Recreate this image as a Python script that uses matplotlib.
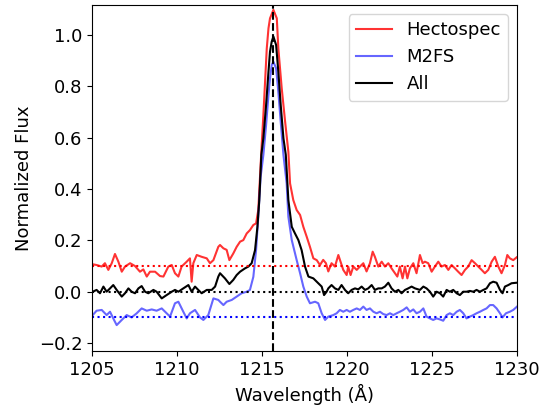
import matplotlib
matplotlib.use("Agg")
import matplotlib.pyplot as plt

# Hectospec spectrum (offset +0.1)
wave_hecto = [1205.04, 1205.27, 1205.57, 1205.76, 1205.96, 1206.16, 1206.35, 1206.55, 1206.75, 1206.94,
              1207.24, 1207.53, 1207.82, 1208.02, 1208.22, 1208.41, 1208.71, 1209.00, 1209.20, 1209.49,
              1209.69, 1209.88, 1210.08, 1210.27, 1210.57, 1210.76, 1210.86, 1210.96, 1211.16, 1211.45,
              1211.75, 1211.94, 1212.14, 1212.43, 1212.53, 1212.73, 1212.92, 1213.08, 1213.31, 1213.51,
              1213.71, 1213.90, 1214.10, 1214.29, 1214.49, 1214.65, 1214.78, 1214.98, 1215.08, 1215.18,
              1215.28, 1215.38, 1215.47, 1215.67, 1215.87, 1215.96, 1216.16, 1216.36, 1216.55, 1216.65,
              1216.84, 1217.04, 1217.24, 1217.43, 1217.63, 1217.82, 1218.02, 1218.22, 1218.41, 1218.60,
              1218.76, 1218.90, 1219.09, 1219.29, 1219.49, 1219.62, 1219.78, 1219.98, 1220.07, 1220.21,
              1220.37, 1220.57, 1220.76, 1220.96, 1221.15, 1221.35, 1221.51, 1221.64, 1221.84, 1222.04,
              1222.23, 1222.43, 1222.62, 1222.82, 1222.96, 1223.11, 1223.27, 1223.41, 1223.55, 1223.70,
              1223.90, 1224.09, 1224.29, 1224.45, 1224.58, 1224.78, 1224.98, 1225.17, 1225.37, 1225.56,
              1225.76, 1225.96, 1226.15, 1226.35, 1226.54, 1226.74, 1226.94, 1227.13, 1227.33, 1227.53,
              1227.72, 1227.92, 1228.11, 1228.31, 1228.51, 1228.70, 1228.90, 1229.09, 1229.29, 1229.43,
              1229.58, 1229.78, 1229.98]
flux_hecto = [0.107, 0.104, 0.098, 0.111, 0.085, 0.111, 0.147, 0.117, 0.078, 0.098,
              0.111, 0.100, 0.078, 0.087, 0.059, 0.078, 0.078, 0.061, 0.059, 0.098,
              0.104, 0.072, 0.059, 0.098, 0.117, 0.130, 0.039, 0.111, 0.143, 0.136,
              0.130, 0.111, 0.123, 0.175, 0.182, 0.169, 0.163, 0.123, 0.149, 0.175,
              0.195, 0.201, 0.227, 0.240, 0.260, 0.266, 0.318, 0.571, 0.688, 0.818,
              0.948, 1.026, 1.065, 1.098, 1.065, 0.948, 0.792, 0.662, 0.545, 0.422,
              0.357, 0.318, 0.299, 0.253, 0.214, 0.175, 0.130, 0.123, 0.104, 0.124,
              0.111, 0.079, 0.111, 0.098, 0.143, 0.117, 0.085, 0.065, 0.098, 0.065,
              0.098, 0.085, 0.098, 0.111, 0.079, 0.111, 0.156, 0.136, 0.098, 0.117,
              0.098, 0.111, 0.091, 0.072, 0.059, 0.098, 0.052, 0.098, 0.052, 0.091,
              0.111, 0.072, 0.143, 0.111, 0.117, 0.111, 0.078, 0.098, 0.117, 0.098,
              0.104, 0.085, 0.104, 0.091, 0.078, 0.065, 0.085, 0.098, 0.123, 0.111,
              0.098, 0.085, 0.072, 0.085, 0.117, 0.136, 0.098, 0.072, 0.104, 0.143,
              0.130, 0.123, 0.134]

# M2FS spectrum (offset -0.1)
wave_m2fs = [1205.04, 1205.27, 1205.57, 1205.86, 1206.06, 1206.25, 1206.45, 1206.75, 1207.04, 1207.33,
             1207.63, 1207.92, 1208.22, 1208.51, 1208.80, 1209.10, 1209.39, 1209.59, 1209.88, 1210.08,
             1210.37, 1210.57, 1210.76, 1211.06, 1211.35, 1211.55, 1211.84, 1212.14, 1212.43, 1212.53,
             1212.73, 1212.92, 1213.22, 1213.51, 1213.80, 1214.10, 1214.29, 1214.49, 1214.65, 1214.78,
             1214.92, 1215.08, 1215.24, 1215.38, 1215.47, 1215.57, 1215.67, 1215.83, 1215.96, 1216.10,
             1216.26, 1216.45, 1216.55, 1216.75, 1217.04, 1217.24, 1217.43, 1217.63, 1217.82, 1218.12,
             1218.31, 1218.51, 1218.71, 1218.90, 1219.19, 1219.39, 1219.58, 1219.78, 1219.98, 1220.17,
             1220.37, 1220.57, 1220.76, 1220.96, 1221.15, 1221.35, 1221.55, 1221.74, 1221.94, 1222.13,
             1222.33, 1222.53, 1222.72, 1222.92, 1223.11, 1223.31, 1223.51, 1223.70, 1223.90, 1224.09,
             1224.29, 1224.49, 1224.68, 1224.88, 1225.07, 1225.27, 1225.47, 1225.66, 1225.86, 1226.05,
             1226.25, 1226.45, 1226.64, 1226.84, 1227.03, 1227.23, 1227.43, 1227.62, 1227.82, 1228.02,
             1228.21, 1228.41, 1228.60, 1228.80, 1229.00, 1229.15, 1229.35, 1229.58, 1229.78, 1230.00]
flux_m2fs = [-0.091, -0.074, -0.071, -0.091, -0.078, -0.104, -0.130, -0.110, -0.091, -0.100,
             -0.084, -0.065, -0.074, -0.069, -0.074, -0.065, -0.084, -0.097, -0.045, -0.039,
             -0.078, -0.104, -0.084, -0.071, -0.100, -0.110, -0.091, -0.026, -0.032, -0.039,
             -0.052, -0.039, -0.032, -0.019, -0.006, 0.000, 0.007, 0.058, 0.162, 0.292,
             0.448, 0.533, 0.649, 0.766, 0.831, 0.883, 0.896, 0.870, 0.779, 0.662,
             0.533, 0.422, 0.292, 0.201, 0.123, 0.072, 0.020, -0.019, -0.045, -0.039,
             -0.045, -0.084, -0.110, -0.097, -0.091, -0.084, -0.071, -0.078, -0.071, -0.078,
             -0.071, -0.065, -0.071, -0.058, -0.071, -0.065, -0.078, -0.084, -0.078, -0.087,
             -0.091, -0.084, -0.091, -0.084, -0.078, -0.071, -0.061, -0.078, -0.069, -0.084,
             -0.078, -0.065, -0.097, -0.104, -0.110, -0.104, -0.108, -0.113, -0.091, -0.084,
             -0.091, -0.078, -0.071, -0.084, -0.104, -0.097, -0.091, -0.084, -0.078, -0.071,
             -0.065, -0.052, -0.052, -0.065, -0.084, -0.100, -0.084, -0.078, -0.071, -0.058]

# Combined spectrum
wave_all = [1205.04, 1205.27, 1205.47, 1205.67, 1205.86, 1206.06, 1206.25, 1206.45, 1206.75, 1206.94,
            1207.14, 1207.33, 1207.53, 1207.73, 1207.92, 1208.12, 1208.31, 1208.61, 1208.80, 1209.10,
            1209.39, 1209.69, 1209.88, 1210.08, 1210.37, 1210.67, 1210.86, 1211.06, 1211.25, 1211.45,
            1211.75, 1212.04, 1212.24, 1212.43, 1212.53, 1212.82, 1213.08, 1213.31, 1213.51, 1213.71,
            1214.00, 1214.20, 1214.39, 1214.59, 1214.73, 1214.84, 1214.96, 1215.08, 1215.24, 1215.38,
            1215.47, 1215.57, 1215.67, 1215.83, 1215.96, 1216.10, 1216.26, 1216.40, 1216.55, 1216.75,
            1216.94, 1217.14, 1217.33, 1217.53, 1217.73, 1218.02, 1218.31, 1218.51, 1218.65, 1218.80,
            1218.90, 1219.09, 1219.29, 1219.49, 1219.68, 1219.88, 1220.07, 1220.27, 1220.47, 1220.66,
            1220.86, 1221.06, 1221.25, 1221.45, 1221.64, 1221.84, 1222.04, 1222.23, 1222.43, 1222.62,
            1222.82, 1223.02, 1223.21, 1223.41, 1223.60, 1223.80, 1224.00, 1224.29, 1224.49, 1224.68,
            1224.88, 1225.07, 1225.27, 1225.47, 1225.66, 1225.86, 1226.05, 1226.25, 1226.45, 1226.64,
            1226.84, 1227.03, 1227.23, 1227.43, 1227.62, 1227.82, 1228.02, 1228.21, 1228.41, 1228.60,
            1228.80, 1229.00, 1229.15, 1229.29, 1229.49, 1229.68, 1229.98]
flux_all = [0.000, 0.007, -0.006, 0.020, 0.000, 0.013, 0.026, 0.007, -0.019, -0.006,
            0.013, 0.000, -0.006, 0.013, 0.022, 0.000, -0.006, 0.007, 0.000, -0.026,
            -0.013, 0.000, 0.007, 0.000, 0.013, 0.026, 0.000, 0.020, 0.007, -0.006,
            0.007, 0.007, 0.020, 0.059, 0.072, 0.052, 0.030, 0.046, 0.065, 0.078,
            0.091, 0.098, 0.111, 0.162, 0.253, 0.357, 0.533, 0.598, 0.727, 0.857,
            0.935, 0.974, 0.994, 0.961, 0.857, 0.727, 0.598, 0.533, 0.357, 0.253,
            0.227, 0.201, 0.162, 0.098, 0.059, 0.052, 0.033, 0.020, -0.013, 0.000,
            0.013, 0.026, 0.013, 0.007, 0.026, 0.007, -0.006, 0.007, 0.013, 0.009,
            0.020, 0.007, 0.013, 0.026, 0.007, 0.013, 0.013, 0.020, 0.035, 0.013,
            0.000, 0.007, -0.006, 0.007, 0.013, 0.020, 0.013, 0.007, 0.020, 0.013,
            0.000, -0.019, 0.000, -0.006, -0.019, 0.007, 0.000, 0.007, -0.006, -0.013,
            0.000, 0.000, 0.003, 0.000, 0.007, 0.000, 0.007, 0.013, 0.033, 0.039,
            0.035, 0.007, -0.006, 0.020, 0.026, 0.033, 0.035]

offsets = [0.1, -0.1, 0.0]
lya = 1215.67

fig = plt.figure(figsize=(5.53, 4.05), dpi=100)
ax = fig.add_axes([0.1664, 0.1333, 0.7685, 0.8544])

ax.plot(wave_hecto, flux_hecto, color='red', alpha=0.8, lw=1.5, label='Hectospec')
ax.plot(wave_m2fs, flux_m2fs, color='blue', alpha=0.6, lw=1.5, label='M2FS')
ax.plot(wave_all, flux_all, color='black', lw=1.5, label='All')

ax.axhline(offsets[0], color='red', ls=':', lw=1.5)
ax.axhline(offsets[2], color='black', ls=':', lw=1.5)
ax.axhline(offsets[1], color='blue', ls=':', lw=1.5)
ax.axvline(lya, color='black', ls='--', lw=1.5)

ax.set_xlim(1205, 1230)
ax.set_ylim(-0.231, 1.117)
ax.set_xticks([1205, 1210, 1215, 1220, 1225, 1230])
ax.set_yticks([-0.2, 0.0, 0.2, 0.4, 0.6, 0.8, 1.0])
ax.tick_params(labelsize=13)
ax.set_xlabel('Wavelength (Å)', fontsize=13)
ax.set_ylabel('Normalized Flux', fontsize=13)
ax.legend(loc='upper right', fontsize=13)

fig.savefig('out.png', dpi=100)
